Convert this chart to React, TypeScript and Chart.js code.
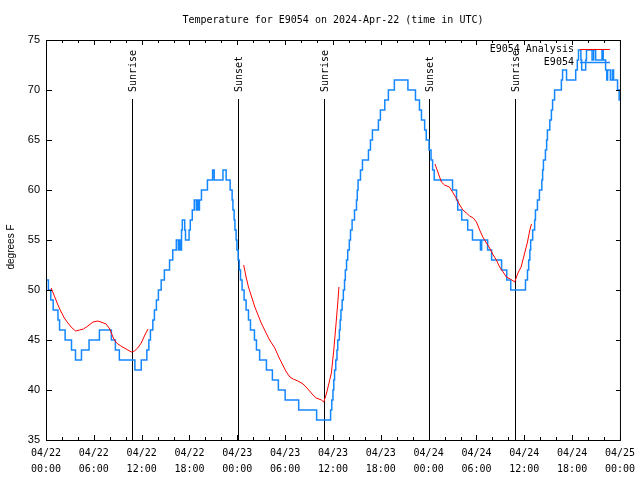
import React, { useEffect, useRef } from 'react';
import { Chart, registerables } from 'chart.js';

Chart.register(...registerables);

// ---- data ----
const titleText = 'Temperature for E9054 on 2024-Apr-22 (time in UTC)';
const yAxisTitle = 'degrees F';
const xTickDates = ['04/22', '04/22', '04/22', '04/22', '04/23', '04/23', '04/23', '04/23', '04/24', '04/24', '04/24', '04/24', '04/25'];
const xTickTimes = ['00:00', '06:00', '12:00', '18:00', '00:00', '06:00', '12:00', '18:00', '00:00', '06:00', '12:00', '18:00', '00:00'];
const legendLabels = ['E9054 Analysis', 'E9054'];

// observations (hours since 04/22 00:00 UTC, degrees F)
const obsHours = [
  0.0, 0.3, 0.6, 0.9, 1.5, 1.7, 2.4, 3.2, 3.7, 4.45, 5.4, 6.7, 8.2, 8.7, 9.2, 11.15, 11.95, 12.65, 12.9, 13.1,
  13.4, 13.6, 13.85, 14.1, 14.45, 14.85, 15.5, 15.9, 16.35, 16.6, 16.75, 16.9, 17.0, 17.1, 17.4, 17.5, 17.95, 18.1, 18.35, 18.6,
  18.85, 19.0, 19.1, 19.25, 19.5, 20.25, 20.9, 21.1, 22.2, 22.6, 23.1, 23.35, 23.45, 23.6, 23.7, 23.85, 23.95, 24.1, 24.25, 24.4,
  24.6, 24.85, 25.1, 25.4, 25.65, 26.15, 26.4, 26.8, 27.65, 28.4, 29.15, 30.0, 31.7, 33.95, 35.7, 35.85, 36.0, 36.1, 36.2, 36.35,
  36.5, 36.6, 36.8, 36.9, 37.0, 37.15, 37.3, 37.45, 37.55, 37.7, 37.85, 38.05, 38.2, 38.4, 38.7, 38.95, 39.05, 39.15, 39.45, 39.7,
  40.45, 40.7, 40.95, 41.7, 41.95, 42.5, 42.95, 43.7, 45.4, 46.35, 46.85, 47.1, 47.5, 47.7, 48.05, 48.3, 48.5, 48.7, 51.0, 51.5,
  51.65, 52.15, 52.9, 53.5, 54.5, 54.65, 55.4, 55.9, 57.15, 57.8, 58.3, 60.15, 60.4, 60.55, 60.7, 60.8, 61.05, 61.3, 61.4, 61.65,
  61.9, 62.2, 62.3, 62.4, 62.65, 62.8, 62.9, 63.2, 63.4, 63.55, 63.8, 64.65, 64.8, 65.3, 66.45, 66.65, 66.8, 67.1, 67.2, 67.7,
  67.8, 68.5, 68.7, 68.95, 69.75, 69.9, 70.2, 70.35, 70.45, 70.8, 71.05, 71.2, 71.7, 71.9, 72.0,
];
const obsTemps = [
  51, 50, 49, 48, 47, 46, 45, 44, 43, 44, 45, 46, 45, 44, 43, 42, 43, 44, 45, 46,
  47, 48, 49, 50, 51, 52, 53, 54, 55, 54, 55, 54, 56, 57, 56, 55, 56, 57, 58, 59,
  58, 59, 58, 59, 60, 61, 62, 61, 62, 61, 60, 59, 58, 57, 56, 55, 54, 53, 52, 51,
  50, 49, 48, 47, 46, 45, 44, 43, 42, 41, 40, 39, 38, 37, 38, 39, 40, 41, 42, 43,
  44, 45, 46, 47, 48, 49, 50, 51, 52, 53, 54, 55, 56, 57, 58, 59, 60, 61, 62, 63,
  64, 65, 66, 67, 68, 69, 70, 71, 70, 69, 68, 67, 66, 65, 64, 63, 62, 61, 60, 59,
  58, 57, 56, 55, 54, 55, 54, 53, 52, 51, 50, 51, 52, 53, 54, 55, 56, 57, 58, 59,
  60, 61, 62, 63, 64, 65, 66, 67, 68, 69, 70, 71, 72, 71, 72, 73, 74, 73, 72, 73,
  74, 73, 74, 73, 74, 73, 72, 71, 72, 71, 72, 71, 70, 69, 69,
];

// analysis (three 12-hour runs; null marks a break)
const anaHours = [
  0.65, 1.05, 1.5, 1.9, 2.3, 2.75, 3.15, 3.7, 4.2, 4.7, 5.25, 5.9, 6.5, 6.9, 7.55, 8.0, 8.45, 8.85, 9.4, 10.05,
  10.7, 11.1, 11.5, 11.95, 12.4, 12.8,
  18.0,
  24.8, 25.1, 25.4, 25.8, 26.2, 26.6, 27.0, 27.55, 28.05, 28.7, 29.2, 29.7, 30.15, 30.6, 31.0, 31.6, 32.25, 32.85, 33.5, 33.9,
  34.55, 34.85, 35.2, 35.5, 35.8, 36.1, 36.35, 36.6, 36.75,
  42.0,
  48.8, 49.2, 49.6, 50.0, 50.6, 51.0, 51.45, 51.9, 52.3, 52.75, 53.15, 53.6, 54.0, 54.4, 54.8, 55.25, 55.65, 56.1, 56.5, 56.9,
  57.35, 57.75, 58.25, 58.8, 59.2, 59.6, 60.05, 60.4, 60.7, 60.9,
];
const anaTemps = [
  50.2, 49.4, 48.5, 47.8, 47.2, 46.7, 46.3, 45.9, 46.0, 46.1, 46.4, 46.8, 46.9, 46.8, 46.6, 46.1, 45.2, 44.7, 44.4, 44.1,
  43.8, 43.9, 44.2, 44.7, 45.5, 46.1,
  null,
  52.5, 51.3, 50.3, 49.3, 48.3, 47.5, 46.7, 45.8, 45.0, 44.2, 43.3, 42.5, 41.8, 41.3, 41.1, 40.9, 40.6, 40.1, 39.5, 39.2,
  39.0, 38.8, 39.7, 40.7, 41.7, 44.0, 46.3, 48.7, 50.3,
  null,
  62.6, 61.7, 60.8, 60.5, 60.3, 59.8, 59.2, 58.5, 58.0, 57.7, 57.4, 57.2, 56.8, 56.0, 55.3, 54.7, 54.2, 53.5, 53.0, 52.3,
  51.8, 51.3, 51.1, 50.8, 51.7, 52.3, 53.7, 54.8, 56.0, 56.6,
];

const sunEventHours = [10.82, 24.07, 34.85, 48.07, 58.84];
const sunEventLabels = ['Sunrise', 'Sunset', 'Sunrise', 'Sunset', 'Sunrise'];

const X_MIN = 0;
const X_MAX = 72;
const X_MAJOR = 6;
const X_MINOR = 2;
const Y_MIN = 35;
const Y_MAX = 75;
const Y_STEP = 5;

const BLUE = 'rgb(20,135,255)';
const RED = '#ff0000';
const MONO = '"DejaVu Sans Mono", monospace';
const SANS = '"Liberation Sans", Arial, sans-serif';

const overlayPlugin = {
  id: 'overlay',
  beforeDatasetsDraw(chart: any) {
    const { ctx, chartArea: a, scales } = chart;
    const x = scales.x;
    ctx.save();
    ctx.strokeStyle = '#000';
    ctx.lineWidth = 1;
    ctx.fillStyle = '#000';
    ctx.font = `10px ${MONO}`;
    sunEventHours.forEach((h, i) => {
      const px = Math.round(x.getPixelForValue(h)) + 0.5;
      ctx.beginPath();
      ctx.moveTo(px, a.top + 59);
      ctx.lineTo(px, a.bottom);
      ctx.stroke();
      ctx.save();
      ctx.translate(px + 1, a.top + 52);
      ctx.rotate(-Math.PI / 2);
      ctx.textAlign = 'left';
      ctx.textBaseline = 'middle';
      ctx.fillText(sunEventLabels[i], 0, 0);
      ctx.restore();
    });
    ctx.restore();
  },
  afterDatasetsDraw(chart: any) {
    const { ctx, chartArea: a, scales } = chart;
    const x = scales.x;
    const y = scales.y;
    ctx.save();
    ctx.strokeStyle = '#000';
    ctx.lineWidth = 1;
    // frame
    ctx.strokeRect(a.left + 0.5, a.top + 0.5, a.right - a.left, a.bottom - a.top);
    // x ticks (inward, top and bottom)
    ctx.beginPath();
    for (let h = X_MIN; h <= X_MAX; h += X_MINOR) {
      const px = Math.round(x.getPixelForValue(h)) + 0.5;
      const len = h % X_MAJOR === 0 ? 5 : 3;
      ctx.moveTo(px, a.bottom);
      ctx.lineTo(px, a.bottom - len);
      ctx.moveTo(px, a.top);
      ctx.lineTo(px, a.top + len);
    }
    // y ticks
    for (let v = Y_MIN; v <= Y_MAX; v += Y_STEP) {
      const py = Math.round(y.getPixelForValue(v)) + 0.5;
      ctx.moveTo(a.left, py);
      ctx.lineTo(a.left + 6, py);
      ctx.moveTo(a.right, py);
      ctx.lineTo(a.right - 4, py);
    }
    ctx.stroke();

    // title
    ctx.fillStyle = '#000';
    ctx.font = `10px ${MONO}`;
    ctx.textAlign = 'center';
    ctx.textBaseline = 'middle';
    ctx.fillText(titleText, (a.left + a.right) / 2, 20);

    // y axis title
    ctx.save();
    ctx.font = `10px ${SANS}`;
    ctx.translate(11, (a.top + a.bottom) / 2 + 7);
    ctx.rotate(-Math.PI / 2);
    ctx.textAlign = 'center';
    ctx.textBaseline = 'middle';
    ctx.fillText(yAxisTitle, 0, 0);
    ctx.restore();

    // legend
    const colors = [RED, BLUE];
    legendLabels.forEach((lab, i) => {
      const ly = a.top + 9.5 + i * 13;
      ctx.fillStyle = '#000';
      ctx.textAlign = 'right';
      ctx.fillText(lab, a.right - 46, ly);
      ctx.strokeStyle = colors[i];
      ctx.lineWidth = i === 0 ? 1 : 1.5;
      ctx.beginPath();
      ctx.moveTo(a.right - 40, ly);
      ctx.lineTo(a.right - 10, ly);
      ctx.stroke();
    });
    ctx.restore();
  },
};

export default function App() {
  const ref = useRef<HTMLCanvasElement>(null);
  useEffect(() => {
    const obsData = obsHours.map((h, i) => ({ x: h, y: obsTemps[i] }));
    const anaData = anaHours.map((h, i) => ({ x: h, y: anaTemps[i] }));
    const chart = new Chart(ref.current as HTMLCanvasElement, {
      type: 'line',
      data: {
        datasets: [
          {
            label: legendLabels[0],
            data: anaData as any,
            borderColor: RED,
            borderWidth: 1,
            pointRadius: 0,
            spanGaps: false,
            fill: false,
          },
          {
            label: legendLabels[1],
            data: obsData,
            borderColor: BLUE,
            borderWidth: 1.5,
            pointRadius: 0,
            stepped: 'before',
            fill: false,
          },
        ],
      },
      options: {
        animation: false,
        responsive: false,
        devicePixelRatio: 1,
        layout: { padding: { top: 40, right: 20, bottom: 0, left: 0 } },
        plugins: {
          legend: { display: false },
          title: { display: false },
          tooltip: { enabled: false },
        },
        scales: {
          x: {
            type: 'linear',
            min: X_MIN,
            max: X_MAX,
            grid: { display: false, drawTicks: false },
            border: { display: false },
            afterFit: (s: any) => {
              s.height = 40;
            },
            ticks: {
              stepSize: X_MAJOR,
              autoSkip: false,
              maxRotation: 0,
              padding: 5,
              color: '#000',
              font: { family: MONO, size: 10, lineHeight: 1.6 },
              callback: (v: any) => {
                const i = Math.round(Number(v) / X_MAJOR);
                return [xTickDates[i], xTickTimes[i]];
              },
            },
          },
          y: {
            type: 'linear',
            min: Y_MIN,
            max: Y_MAX,
            grid: { display: false, drawTicks: false },
            border: { display: false },
            afterFit: (s: any) => {
              s.width = 46;
            },
            title: { display: false },
            ticks: {
              stepSize: Y_STEP,
              padding: 6,
              color: '#000',
              font: { family: SANS, size: 11 },
            },
          },
        },
      },
      plugins: [overlayPlugin],
    });
    return () => chart.destroy();
  }, []);

  return (
    <div style={{ position: 'fixed', left: 0, top: 0, width: 640, height: 480, background: '#fff' }}>
      <canvas ref={ref} width={640} height={480} style={{ display: 'block', width: 640, height: 480 }} />
    </div>
  );
}
